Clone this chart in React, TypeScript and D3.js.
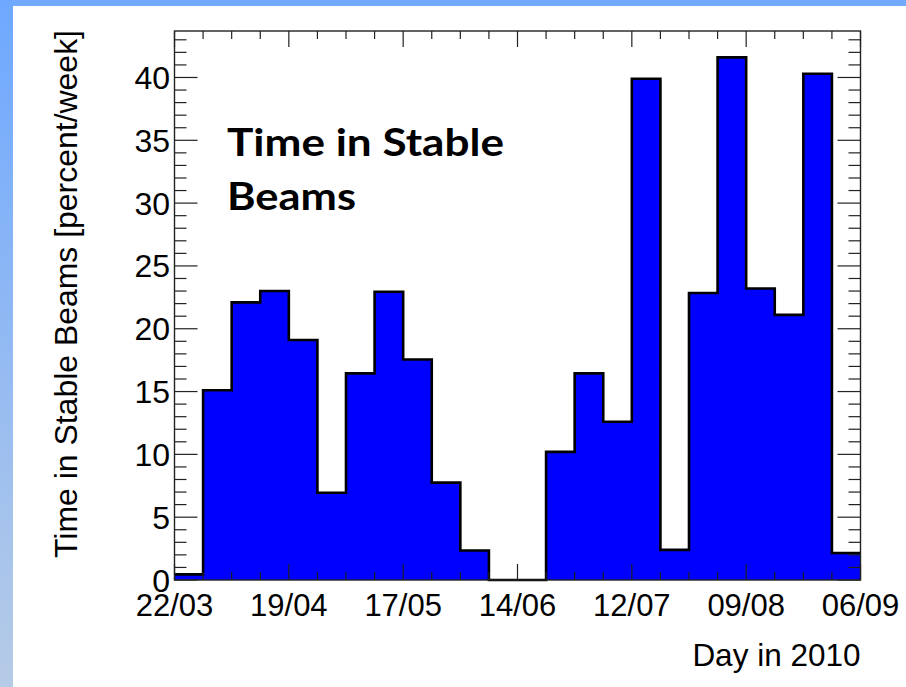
import React from "react";
import * as d3 from "d3";

const weekStarts: string[] = [
  "2010-03-22","2010-03-29","2010-04-05","2010-04-12","2010-04-19","2010-04-26",
  "2010-05-03","2010-05-10","2010-05-17","2010-05-24","2010-05-31","2010-06-07",
  "2010-06-14","2010-06-21","2010-06-28","2010-07-05","2010-07-12","2010-07-19",
  "2010-07-26","2010-08-02","2010-08-09","2010-08-16","2010-08-23","2010-08-30",
];
const percentValues: number[] = [
  0.45, 15.1, 22.1, 23.0, 19.1, 6.95,
  16.45, 22.95, 17.55, 7.75, 2.35, 0,
  0, 10.2, 16.45, 12.6, 39.9, 2.4,
  22.85, 41.6, 23.2, 21.1, 40.3, 2.15,
];
const xDomain: string[] = ["2010-03-22", "2010-09-06"];
const yMax = 43.7;
const yMajorTicks: number[] = [0, 5, 10, 15, 20, 25, 30, 35, 40];
const xTitle = "Day in 2010";
const yTitle = "Time in Stable Beams [percent/week]";
const overlayLines: string[] = ["Time in Stable", "Beams"];

const W = 906, H = 687;
const L = 174.5, R = 860.5, T = 31, B = 580;
const AXIS_FONT = "'Liberation Sans', Arial, sans-serif";

export default function App() {
  const parse = d3.utcParse("%Y-%m-%d");
  const x = d3.scaleUtc().domain(xDomain.map((s) => parse(s)!)).range([L, R]);
  const y = d3.scaleLinear().domain([0, yMax]).range([B, T]);
  const fmt = d3.utcFormat("%d/%m");

  const starts = weekStarts.map((s) => parse(s)!);
  const lastEnd = d3.utcWeek.offset(starts[starts.length - 1], 1);
  const pts: [Date, number][] = starts.map((d, i) => [d, percentValues[i]]);
  pts.push([lastEnd, percentValues[percentValues.length - 1]]);

  const area = d3
    .area<[Date, number]>()
    .x((p) => x(p[0]))
    .y0(B)
    .y1((p) => y(p[1]))
    .curve(d3.curveStepAfter);
  const line = d3
    .line<[Date, number]>()
    .x((p) => x(p[0]))
    .y((p) => y(p[1]))
    .curve(d3.curveStepAfter);

  const weekTicks = d3.utcMonday.range(x.domain()[0], d3.utcDay.offset(x.domain()[1], 1));
  const majorX = weekTicks.filter((_, i) => i % 4 === 0);
  const minorY = d3.range(0, Math.floor(yMax) + 1);

  return (
    <div style={{ position: "absolute", left: 0, top: 0 }}>
      <svg width={W} height={H} style={{ display: "block" }}>
        <defs>
          <linearGradient id="sideGrad" x1="0" y1="0" x2="0" y2="1">
            <stop offset="0" stopColor="#6ea8ff" />
            <stop offset="1" stopColor="#b6cbe6" />
          </linearGradient>
        </defs>
        <rect x={0} y={0} width={W} height={H} fill="#ffffff" />
        <rect x={0} y={0} width={W} height={6} fill="#72aaff" />
        <rect x={0} y={0} width={13} height={H} fill="url(#sideGrad)" />

        {/* histogram */}
        <path d={area(pts) || ""} fill="#0000ff" stroke="none" />
        <path d={line(pts) || ""} fill="none" stroke="#000" strokeWidth={2.6} strokeLinejoin="miter" />

        {/* frame */}
        <rect x={L} y={T} width={R - L} height={B - T} fill="none" stroke="#222" strokeWidth={1.4} />

        {/* x ticks */}
        {weekTicks.map((d, i) => {
          const major = i % 4 === 0;
          const len = major ? 16 : 8;
          const xx = x(d);
          return (
            <g key={"xt" + i} stroke="#222" strokeWidth={1.2}>
              <line x1={xx} x2={xx} y1={B} y2={B - len} />
              <line x1={xx} x2={xx} y1={T} y2={T + len} />
            </g>
          );
        })}
        {majorX.map((d, i) => (
          <text
            key={"xl" + i}
            x={x(d)}
            y={616}
            textAnchor="middle"
            fontFamily={AXIS_FONT}
            fontSize={31}
            fill="#000"
          >
            {fmt(d)}
          </text>
        ))}

        {/* y ticks */}
        {minorY.map((v) => {
          const major = v % 5 === 0;
          const len = major ? 23 : 12;
          const yy = y(v);
          return (
            <g key={"yt" + v} stroke="#222" strokeWidth={1.2}>
              <line x1={L} x2={L + len} y1={yy} y2={yy} />
              <line x1={R} x2={R - len} y1={yy} y2={yy} />
            </g>
          );
        })}
        {yMajorTicks.map((v) => (
          <text
            key={"yl" + v}
            x={170}
            y={y(v) + 11.5}
            textAnchor="end"
            fontFamily={AXIS_FONT}
            fontSize={32}
            fill="#000"
          >
            {v}
          </text>
        ))}

        {/* axis titles */}
        <text
          x={R}
          y={666}
          textAnchor="end"
          fontFamily={AXIS_FONT}
          fontSize={31.5}
          fill="#000"
        >
          {xTitle}
        </text>
        <text
          transform={`translate(77,294) rotate(-90)`}
          textAnchor="middle"
          fontFamily={AXIS_FONT}
          fontSize={31}
          textLength={528}
          lengthAdjust="spacingAndGlyphs"
          fill="#000"
        >
          {yTitle}
        </text>

        {/* overlay text */}
        {overlayLines.map((s, i) => (
          <text
            key={"ov" + i}
            x={227}
            y={156 + i * 53.5}
            fontFamily="Lato, 'Open Sans', sans-serif"
            fontWeight={700}
            fontSize={38}
            textLength={i === 0 ? 277 : 129}
            lengthAdjust="spacingAndGlyphs"
            fill="#000"
          >
            {s}
          </text>
        ))}
      </svg>
    </div>
  );
}
